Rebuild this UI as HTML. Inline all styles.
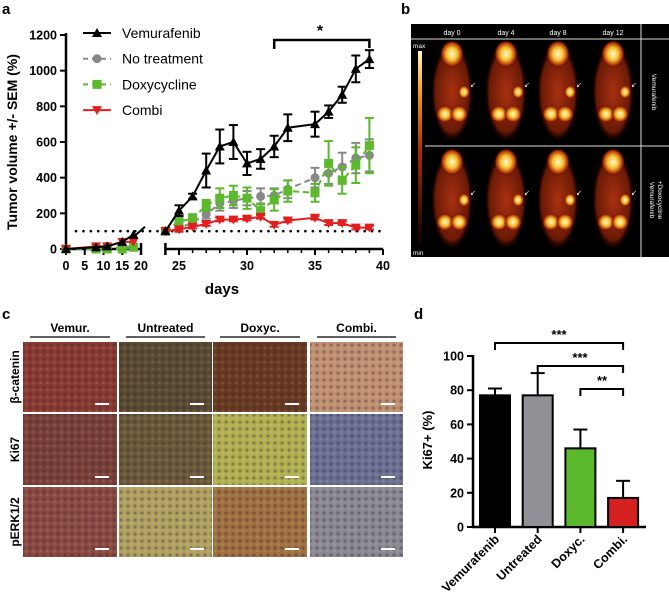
<!DOCTYPE html>
<html><head><meta charset="utf-8"><style>
body{margin:0;width:669px;height:597px;background:#fff;overflow:hidden;font-family:"Liberation Sans",Arial,sans-serif}
svg{position:absolute;left:0;top:0}
</style></head><body>
<svg width="669" height="597" viewBox="0 0 669 597" xmlns="http://www.w3.org/2000/svg">
<defs>
<radialGradient id="hot" cx="50%" cy="50%" r="50%"><stop offset="0" stop-color="#fffbd0"/><stop offset="0.45" stop-color="#f6c030"/><stop offset="0.8" stop-color="#b03008"/><stop offset="1" stop-color="#300" stop-opacity="0"/></radialGradient>
<radialGradient id="body" cx="50%" cy="50%" r="50%"><stop offset="0" stop-color="#a83010"/><stop offset="0.8" stop-color="#6a1a06"/><stop offset="1" stop-color="#200" stop-opacity="0"/></radialGradient>
<linearGradient id="cbar" x1="0" y1="1" x2="0" y2="0"><stop offset="0" stop-color="#000"/><stop offset="0.5" stop-color="#b02a08"/><stop offset="0.8" stop-color="#f5a020"/><stop offset="1" stop-color="#fff8c0"/></linearGradient>
<pattern id="cells" width="7" height="7" patternUnits="userSpaceOnUse"><circle cx="2" cy="2" r="1.6" fill="#2a2040" fill-opacity="0.35"/><circle cx="5.5" cy="5" r="1.3" fill="#fff" fill-opacity="0.12"/></pattern>
</defs>
<g id="panelA"></g>
<g id="panelB"></g>
<g id="panelC"></g>
<g id="panelD"></g>
</svg>
<script>
const NS="http://www.w3.org/2000/svg";
function mk(p,t,a,txt){const e=document.createElementNS(NS,t);for(const k in a)e.setAttribute(k,a[k]);if(txt!==undefined)e.textContent=txt;p.appendChild(e);return e;}

// ---------- Panel A data ----------
const earlyDays=[0,8,11,15,18];
const vemEarly=[0,10,15,40,80];
const noEarly=[0,5,15,5,20];
const doxEarly=[0,0,0,0,10];
const comEarly=[0,15,15,40,40];
const lateDays=[24,25,26,27,28,29,30,31,32,33,35,36,37,38,39];
const vemLate=[100,215,295,440,575,600,480,505,575,680,700,770,865,1010,1065];
const vemErr=[0,30,15,95,95,95,65,55,60,75,70,35,45,75,50];
const noLate=[100,115,150,195,255,270,285,295,300,335,400,425,460,510,525];
const noErr=[0,20,20,25,40,40,40,45,40,50,55,60,80,85,90];
const doxLate=[100,155,170,245,285,300,285,215,275,325,315,480,385,470,580];
const doxErr=[0,25,25,30,55,55,60,40,60,60,50,125,75,100,155];
const comLate=[100,110,125,140,165,165,170,180,135,160,175,145,145,120,120];
const comErr=[0,10,10,10,10,10,10,10,10,10,10,10,10,10,10];
const yTicksA=[0,200,400,600,800,1000,1200];
const xTicksEarly=[0,5,10,15,20];
const xTicksLate=[25,30,35,40];

const A=document.getElementById('panelA');
const yA=v=>249-v*214/1200;
const xE=d=>66+d*3.75;
const xL=d=>179+(d-25)*13.6;
mk(A,'text',{x:2,y:14,'font-size':15,'font-weight':'bold'},'a');
mk(A,'line',{x1:66,y1:33,x2:66,y2:250,stroke:'#000','stroke-width':2.5});
mk(A,'line',{x1:65,y1:249,x2:141,y2:249,stroke:'#000','stroke-width':2.5});
mk(A,'line',{x1:xL(24),y1:249,x2:xL(40),y2:249,stroke:'#000','stroke-width':2.5});
mk(A,'line',{x1:xL(24),y1:243,x2:xL(24),y2:255,stroke:'#000','stroke-width':2.5});
mk(A,'line',{x1:141,y1:243,x2:141,y2:255,stroke:'#000','stroke-width':2.5});
yTicksA.forEach(v=>{const y=yA(v);
 mk(A,'line',{x1:60,y1:y,x2:66,y2:y,stroke:'#000','stroke-width':2});
 const l=mk(A,'text',{x:57,y:y+4.5,'font-size':12.5,'font-weight':'bold','text-anchor':'end'},v);
 });
xTicksEarly.forEach(d=>{const x=xE(d);mk(A,'line',{x1:x,y1:249,x2:x,y2:255,stroke:'#000','stroke-width':2});
 const l=mk(A,'text',{x:x,y:270,'font-size':12.5,'font-weight':'bold','text-anchor':'middle'},d);
 });
xTicksLate.forEach(d=>{const x=xL(d);mk(A,'line',{x1:x,y1:249,x2:x,y2:255,stroke:'#000','stroke-width':2});
 const l=mk(A,'text',{x:x,y:270,'font-size':12.5,'font-weight':'bold','text-anchor':'middle'},d);
 });
for(let d=26;d<40;d++){if(d%5)mk(A,'line',{x1:xL(d),y1:249,x2:xL(d),y2:253,stroke:'#000','stroke-width':1.5});}
const xt=mk(A,'text',{x:222,y:294,'font-size':15,'font-weight':'bold','text-anchor':'middle'},'days');

const yt=mk(A,'text',{x:0,y:0,'font-size':14,'font-weight':'bold','text-anchor':'middle',transform:'translate(17,142) rotate(-90)'},'Tumor volume +/- SEM (%)');

mk(A,'line',{x1:76,y1:yA(100),x2:383,y2:yA(100),stroke:'#000','stroke-width':2.6,'stroke-dasharray':'0.1 7.3','stroke-linecap':'round'});
function marker(g,type,x,y,c){
 if(type==='tri')mk(g,'polygon',{points:`${x},${y-5} ${x-5},${y+4} ${x+5},${y+4}`,fill:c});
 else if(type==='circ')mk(g,'circle',{cx:x,cy:y,r:4.5,fill:c});
 else if(type==='sq')mk(g,'rect',{x:x-4.5,y:y-4.5,width:9,height:9,fill:c});
 else mk(g,'polygon',{points:`${x},${y+5} ${x-5},${y-4} ${x+5},${y-4}`,fill:c});
}
const series=[
 {name:'vemurafenib',e:vemEarly,l:vemLate,err:vemErr,c:'#000',m:'tri',dash:''},
 {name:'no-treatment',e:noEarly,l:noLate,err:noErr,c:'#888',m:'circ',dash:'6 4'},
 {name:'doxycycline',e:doxEarly,l:doxLate,err:doxErr,c:'#5cb82c',m:'sq',dash:'6 4'},
 {name:'combi',e:comEarly,l:comLate,err:comErr,c:'#e02020',m:'invtri',dash:''}];
[1,2,3,0].forEach(i=>{const s=series[i];
 const g=mk(A,'g',{});
 mk(g,'polyline',{points:earlyDays.map((d,j)=>xE(d)+','+yA(s.e[j])).join(' '),fill:'none',stroke:s.c,'stroke-width':2,'stroke-dasharray':s.dash});
 mk(g,'polyline',{points:lateDays.map((d,j)=>xL(d)+','+yA(s.l[j])).join(' '),fill:'none',stroke:s.c,'stroke-width':2,'stroke-dasharray':s.dash});
 lateDays.forEach((d,j)=>{const x=xL(d);if(s.err[j]>0){
  mk(g,'line',{x1:x,y1:yA(s.l[j]-s.err[j]),x2:x,y2:yA(s.l[j]+s.err[j]),stroke:s.c,'stroke-width':2});
  [s.l[j]-s.err[j],s.l[j]+s.err[j]].forEach(v=>mk(g,'line',{x1:x-4.5,y1:yA(v),x2:x+4.5,y2:yA(v),stroke:s.c,'stroke-width':2}));}
  marker(g,s.m,x,yA(s.l[j]),s.c);});
 earlyDays.forEach((d,j)=>marker(g,s.m,xE(d),yA(s.e[j]),s.c));
});
mk(A,'line',{x1:133,y1:yA(65),x2:145,y2:yA(125),stroke:'#000','stroke-width':2});
const leg=[['Vemurafenib','#000','tri',''],['No treatment','#888','circ','5 4'],['Doxycycline','#5cb82c','sq','5 4'],['Combi','#e02020','invtri','']];
leg.forEach((L,i)=>{const y=33+i*25.7;const g=mk(A,'g',{});
 mk(g,'line',{x1:83,y1:y,x2:111,y2:y,stroke:L[1],'stroke-width':2,'stroke-dasharray':L[3]});marker(g,L[2],97,y,L[1]);
 mk(g,'text',{x:122,y:y+5,'font-size':14},L[0]);});
mk(A,'polyline',{points:`${xL(32)},49 ${xL(32)},40 ${xL(39)},40 ${xL(39)},48`,fill:'none',stroke:'#000','stroke-width':2.5});
mk(A,'text',{x:320,y:36,'font-size':16,'font-weight':'bold','text-anchor':'middle'},'*');

// ---------- Panel B ----------
const B=document.getElementById('panelB');
mk(B,'text',{x:401,y:14,'font-size':15,'font-weight':'bold'},'b');
mk(B,'rect',{x:411,y:24,width:258,height:233,fill:'#000'});
mk(B,'line',{x1:411,y1:39,x2:669,y2:39,stroke:'#ddd','stroke-width':1});
mk(B,'line',{x1:641,y1:24,x2:641,y2:257,stroke:'#ddd','stroke-width':1});
mk(B,'line',{x1:425,y1:146,x2:669,y2:146,stroke:'#ddd','stroke-width':1});
const dayLabels=['day 0','day 4','day 8','day 12'];
const colX=[452,506,558,613];
dayLabels.forEach((d,i)=>mk(B,'text',{x:colX[i],y:35,'font-size':7,fill:'#fff','text-anchor':'middle'},d));
mk(B,'rect',{x:418,y:51,width:4,height:198,fill:'url(#cbar)'});
mk(B,'text',{x:413,y:48,'font-size':6.5,fill:'#fff'},'max');
mk(B,'text',{x:413,y:255,'font-size':6.5,fill:'#fff'},'min');
mk(B,'text',{x:0,y:0,'font-size':6.5,fill:'#fff','text-anchor':'middle',transform:'translate(652,92) rotate(90)'},'Vemurafenib');
mk(B,'text',{x:0,y:0,'font-size':6.5,fill:'#fff','text-anchor':'middle',transform:'translate(650,200) rotate(90)'},'Vemurafenib');
mk(B,'text',{x:0,y:0,'font-size':6.5,fill:'#fff','text-anchor':'middle',transform:'translate(658,200) rotate(90)'},'+Doxocycline');
[92,200].forEach((cy,r)=>colX.forEach((cx,i)=>{
 mk(B,'ellipse',{cx:cx,cy:cy,rx:21,ry:50,fill:'url(#body)'});
 mk(B,'ellipse',{cx:cx,cy:cy-38,rx:12,ry:14,fill:'url(#hot)'});
 mk(B,'ellipse',{cx:cx-7,cy:cy+22,rx:9,ry:9,fill:'url(#hot)'});
 mk(B,'ellipse',{cx:cx+7,cy:cy+22,rx:9,ry:9,fill:'url(#hot)'});
 mk(B,'ellipse',{cx:cx+12,cy:cy,rx:6,ry:7,fill:'url(#hot)'});
 mk(B,'text',{x:cx+18,y:cy-5,'font-size':7,fill:'#fff'},'↙');
}));

// ---------- Panel C ----------
const C=document.getElementById('panelC');
mk(C,'text',{x:2,y:319,'font-size':15,'font-weight':'bold'},'c');
const colNames=['Vemur.','Untreated','Doxyc.','Combi.'];
const cx0=[23,119,213,310],cw=[94,93,94,93];
const rowNames=['β-catenin','Ki67','pERK1/2'];
const ry0=[342,414,487],rh=[70,71,70];
const tile=[['#8a3a30','#5a4a30','#6a3a20','#c09070'],['#7a4038','#6a5838','#b0b050','#6a7090'],['#8a4a40','#b0a060','#a07040','#8a8890']];
colNames.forEach((n,i)=>{mk(C,'text',{x:cx0[i]+cw[i]/2,y:332,'font-size':12,'font-weight':'bold','text-anchor':'middle'},n);
 mk(C,'line',{x1:cx0[i]+7,y1:337,x2:cx0[i]+cw[i]-7,y2:337,stroke:'#000','stroke-width':1.2});});
rowNames.forEach((n,r)=>{mk(C,'text',{x:0,y:0,'font-size':12,'font-weight':'bold','text-anchor':'middle',transform:`translate(19,${ry0[r]+rh[r]/2}) rotate(-90)`},n);
 colNames.forEach((c,i)=>{const t=mk(C,'rect',{x:cx0[i],y:ry0[r],width:cw[i],height:rh[r],fill:tile[r][i]});
  
  mk(C,'rect',{x:cx0[i],y:ry0[r],width:cw[i],height:rh[r],fill:'url(#cells)'});
  mk(C,'line',{x1:cx0[i]+cw[i]-22,y1:ry0[r]+rh[r]-8,x2:cx0[i]+cw[i]-8,y2:ry0[r]+rh[r]-8,stroke:'#fff','stroke-width':2});});});

// ---------- Panel D ----------
const barCats=['Vemurafenib','Untreated','Doxyc.','Combi.'];
const barVals=[77,77,46,17];
const barErr=[4,13,11,10];
const barColors=['#000','#909096','#5cb82c','#d42020'];
const yTicksD=[0,20,40,60,80,100];
const D=document.getElementById('panelD');
const yD=v=>527-v*1.71;
const xD=i=>495+i*42.7;
mk(D,'text',{x:414,y:319,'font-size':15,'font-weight':'bold'},'d');
mk(D,'line',{x1:473,y1:355,x2:473,y2:528,stroke:'#000','stroke-width':2.5});
mk(D,'line',{x1:472,y1:527,x2:646,y2:527,stroke:'#000','stroke-width':2.5});
yTicksD.forEach(v=>{mk(D,'line',{x1:467,y1:yD(v),x2:473,y2:yD(v),stroke:'#000','stroke-width':2});
 const l=mk(D,'text',{x:464,y:yD(v)+4.5,'font-size':12.5,'font-weight':'bold','text-anchor':'end'},v);
 });
const dt=mk(D,'text',{x:0,y:0,'font-size':13,'font-weight':'bold','text-anchor':'middle',transform:'translate(432,440) rotate(-90)'},'Ki67+ (%)');

barCats.forEach((c,i)=>{const x=xD(i);
 mk(D,'line',{x1:x,y1:yD(barVals[i]),x2:x,y2:yD(barVals[i]+barErr[i]),stroke:'#000','stroke-width':2});
 mk(D,'line',{x1:x-7,y1:yD(barVals[i]+barErr[i]),x2:x+7,y2:yD(barVals[i]+barErr[i]),stroke:'#000','stroke-width':2});
 const b=mk(D,'rect',{x:x-15,y:yD(barVals[i]),width:30,height:527-yD(barVals[i]),fill:barColors[i],stroke:'#000','stroke-width':2});
 
 mk(D,'line',{x1:x,y1:527,x2:x,y2:533,stroke:'#000','stroke-width':2});
 const l=mk(D,'text',{x:0,y:0,'font-size':12.5,'font-weight':'bold','text-anchor':'end',transform:`translate(${x+5},${540}) rotate(-45)`},c);
 });
[[0,343,'***'],[1,366,'***'],[2,389,'**']].forEach(s=>{const x1=xD(s[0]),x2=xD(3);
 mk(D,'polyline',{points:`${x1},${s[1]+7} ${x1},${s[1]} ${x2},${s[1]} ${x2},${s[1]+7}`,fill:'none',stroke:'#000','stroke-width':2});
 mk(D,'text',{x:s[0]===0?559:(s[0]===1?580:602),y:s[1]-4,'font-size':13,'font-weight':'bold','text-anchor':'middle'},s[2]);});
</script>
</body></html>
